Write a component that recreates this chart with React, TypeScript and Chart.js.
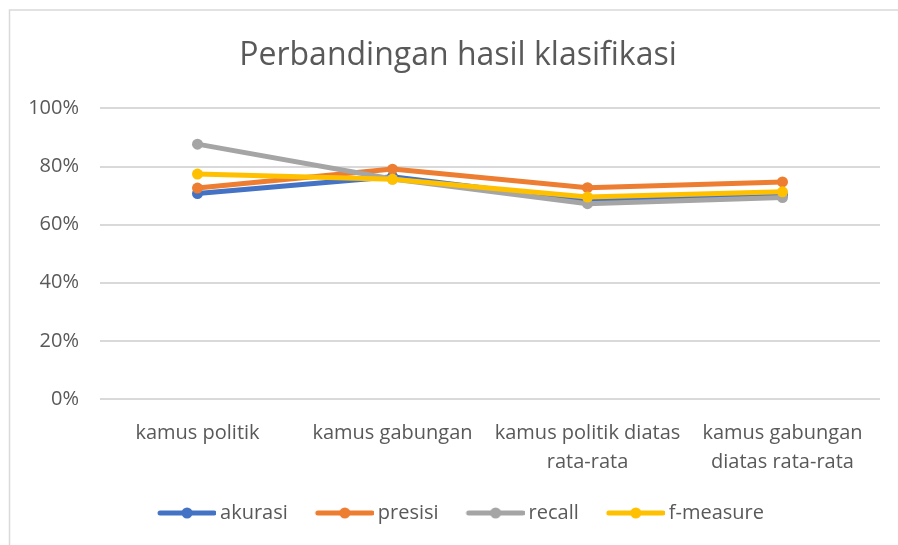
import React, { useEffect, useRef } from "react";
import { Chart, registerables } from "chart.js";

Chart.register(...registerables);

const categories: string[][] = [
  ["kamus politik"],
  ["kamus gabungan"],
  ["kamus politik diatas", "rata-rata"],
  ["kamus gabungan", "diatas rata-rata"],
];
const seriesNames = ["akurasi", "presisi", "recall", "f-measure"];
const akurasi = [0.707, 0.765, 0.682, 0.702];
const presisi = [0.726, 0.791, 0.727, 0.747];
const recall = [0.877, 0.757, 0.672, 0.693];
const fMeasure = [0.774, 0.756, 0.695, 0.713];
const seriesColors = ["#4472C4", "#ED7D31", "#A5A5A5", "#FFC000"];
const yTicks = [0, 0.2, 0.4, 0.6, 0.8, 1.0];

const FONT = "'Open Sans'";
const TEXT = "#595959";

function legendImage(color: string): HTMLCanvasElement {
  const c = document.createElement("canvas");
  const lineLen = 58;
  c.width = lineLen + 12;
  c.height = 12;
  const ctx = c.getContext("2d")!;
  ctx.strokeStyle = color;
  ctx.lineWidth = 5;
  ctx.lineCap = "round";
  ctx.beginPath();
  ctx.moveTo(14, 6);
  ctx.lineTo(12 + lineLen - 2, 6);
  ctx.stroke();
  ctx.fillStyle = color;
  ctx.beginPath();
  ctx.arc(12 + lineLen / 2, 6, 5.5, 0, Math.PI * 2);
  ctx.fill();
  return c;
}

const borderPlugin = {
  id: "frameBorder",
  beforeDraw(chart: any) {
    const ctx = chart.ctx;
    ctx.save();
    ctx.fillStyle = "#ffffff";
    ctx.fillRect(0, 0, chart.width, chart.height);
    ctx.strokeStyle = "#D9D9D9";
    ctx.lineWidth = 1.5;
    ctx.beginPath();
    ctx.moveTo(9.5, chart.height);
    ctx.lineTo(9.5, 10);
    ctx.lineTo(chart.width, 10);
    ctx.stroke();
    ctx.restore();
  },
};

// the original chart frame is wider than the visible crop, so title and legend sit right of centre
const shiftPlugin = {
  id: "shiftBlocks",
  afterLayout(chart: any) {
    const dx = 13;
    [chart.titleBlock, chart.legend].forEach((b: any) => {
      if (b) {
        b.left += dx;
        b.right += dx;
      }
    });
  },
};

export default function App() {
  const ref = useRef<HTMLCanvasElement>(null);
  useEffect(() => {
    document.body.style.margin = "0";
    const values = [akurasi, presisi, recall, fMeasure];
    const images = seriesColors.map(legendImage);
    const chart = new Chart(ref.current!, {
      type: "line",
      data: {
        labels: categories,
        datasets: seriesNames.map((name, i) => ({
          label: name,
          data: values[i],
          borderColor: seriesColors[i],
          backgroundColor: seriesColors[i],
          borderWidth: 5,
          pointRadius: 5.5,
          pointHoverRadius: 5.5,
          pointBorderWidth: 0,
          pointStyle: "circle",
          order: 3 - i,
          tension: 0,
        })),
      },
      options: {
        animation: false,
        responsive: false,
        maintainAspectRatio: false,
        layout: { padding: { left: 10, right: 18, top: 0, bottom: 12 } },
        plugins: {
          title: {
            display: true,
            text: "Perbandingan hasil klasifikasi",
            color: TEXT,
            font: { family: FONT, size: 32, weight: "normal" as any },
            padding: { top: 37, bottom: 33 },
          },
          legend: {
            display: true,
            position: "bottom",
            labels: {
              usePointStyle: true,
              pointStyleWidth: 58,
              boxHeight: 12,
              padding: 22,
              color: TEXT,
              font: { family: FONT, size: 20 },
              sort: (a: any, b: any) => a.datasetIndex - b.datasetIndex,
              generateLabels: (chart: any) => {
                const items = Chart.defaults.plugins.legend.labels.generateLabels(chart);
                return items.map((it: any) => ({ ...it, pointStyle: images[it.datasetIndex] }));
              },
            },
          },
          tooltip: { enabled: false },
        },
        scales: {
          x: {
            offset: true,
            grid: { display: false, drawTicks: false },
            border: { display: false },
            ticks: {
              color: TEXT,
              font: { family: FONT, size: 20, lineHeight: 1.45 },
              padding: 20,
              maxRotation: 0,
              autoSkip: false,
            },
            afterFit: (s: any) => {
              s.height = 82;
            },
          },
          y: {
            min: 0,
            max: 1,
            afterBuildTicks: (s: any) => {
              s.ticks = yTicks.map((v) => ({ value: v }));
            },
            grid: { color: "#D9D9D9", lineWidth: 2, drawTicks: false },
            border: { display: false },
            ticks: {
              color: TEXT,
              font: { family: FONT, size: 20 },
              padding: 21,
              callback: (v: any) => Math.round(Number(v) * 100) + "%",
            },
            afterFit: (s: any) => {
              s.width = 90;
            },
          },
        },
      },
      plugins: [borderPlugin, shiftPlugin],
    });
    return () => chart.destroy();
  }, []);
  return <canvas ref={ref} width={898} height={545} style={{ display: "block" }} />;
}
